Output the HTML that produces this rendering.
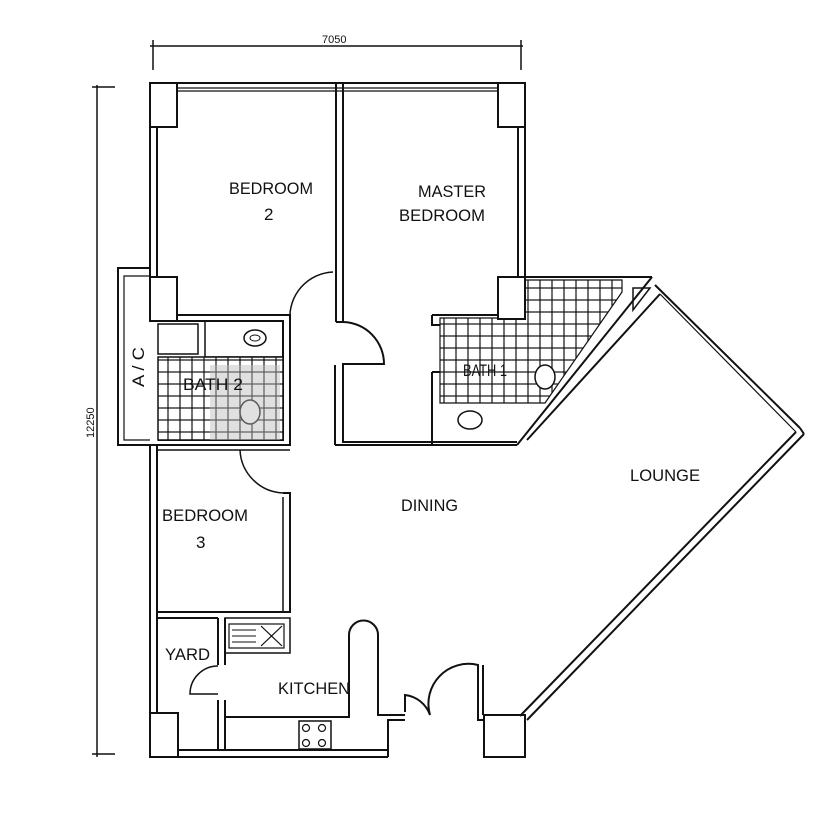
<!DOCTYPE html>
<html><head><style>
html,body{margin:0;padding:0;background:#fff;}
svg{display:block}
text{font-family:"Liberation Sans",sans-serif;fill:#111;}
</style></head><body>
<svg width="839" height="813" viewBox="0 0 839 813" xmlns="http://www.w3.org/2000/svg">
<defs>
<pattern id="tile" width="12" height="12" patternUnits="userSpaceOnUse">
<rect width="12" height="12" fill="#fff" stroke="#111" stroke-width="1.2"/>
</pattern>
<clipPath id="mb"><polygon points="440,318 498,318 498,280 622,280 622,292 545,403 440,403"/></clipPath>
</defs>
<g fill="none" stroke="#111" stroke-width="2">
<line x1="150" y1="46" x2="523" y2="46" stroke-width="1.5"/>
<line x1="153" y1="40" x2="153" y2="70" stroke-width="1.5"/>
<line x1="521" y1="40" x2="521" y2="70" stroke-width="1.5"/>
<line x1="97" y1="85" x2="97" y2="757" stroke-width="1.5"/>
<line x1="92" y1="87" x2="115" y2="87" stroke-width="1.5"/>
<line x1="92" y1="754" x2="115" y2="754" stroke-width="1.5"/>

<line x1="150" y1="83" x2="525" y2="83"/>
<line x1="177" y1="88" x2="498" y2="88" stroke-width="1.2"/>
<line x1="177" y1="91" x2="498" y2="91" stroke-width="1.2"/>
<rect x="150" y="83" width="27" height="44" fill="#fff"/>
<rect x="498" y="83" width="27" height="44" fill="#fff"/>
<rect x="150" y="277" width="27" height="44" fill="#fff"/>
<rect x="150" y="713" width="28" height="44" fill="#fff"/>
<rect x="484" y="715" width="41" height="42" fill="#fff"/>
<line x1="150" y1="127" x2="150" y2="277"/>
<line x1="157" y1="127" x2="157" y2="277"/>
<line x1="518" y1="127" x2="518" y2="277"/>
<line x1="525" y1="127" x2="525" y2="277"/>
<line x1="336" y1="83" x2="336" y2="322"/>
<line x1="343" y1="83" x2="343" y2="322"/>
<line x1="336" y1="322" x2="343" y2="322"/>
<path d="M150 268 H118 V445 H150"/>
<path d="M150 276 H124 V440 H150" stroke-width="1.2"/>
<path d="M177 315 H290 V445 H150"/>
<path d="M177 321 H283 V440 H158"/>
<rect x="158" y="324" width="40" height="30" stroke-width="1.5"/>
<rect x="205" y="321" width="78" height="36" stroke-width="1.5"/>
<ellipse cx="255" cy="338" rx="11" ry="8" stroke-width="1.5"/>
<ellipse cx="255" cy="338" rx="5" ry="3" stroke-width="1"/>
<rect x="158" y="357" width="125" height="83" fill="url(#tile)" stroke-width="1.5"/>
<ellipse cx="250" cy="412" rx="10" ry="12" fill="#fff" stroke-width="1.5"/>
<rect x="210" y="365" width="70" height="75" fill="#bbb" fill-opacity="0.45" stroke="none"/>
<path d="M290 320 A45 45 0 0 1 333 272" stroke-width="1.5"/>
<path d="M343 322 A42 42 0 0 1 384 364 H343 V442 H517" stroke-width="2"/>
<line x1="335" y1="365" x2="335" y2="445"/>
<line x1="335" y1="445" x2="517" y2="445"/>
<!-- master bath -->
<path d="M432 315 H498"/>
<path d="M432 315 V325 H440"/>
<g clip-path="url(#mb)">
<rect x="430" y="270" width="200" height="140" fill="url(#tile)" stroke="none"/>
<rect x="440" y="403" width="100" height="40" fill="#fff" stroke="none"/>
</g>
<polygon points="440,318 498,318 498,280 622,280 622,292 545,403 440,403" stroke-width="1.2"/>
<rect x="498" y="277" width="27" height="42" fill="#fff"/>
<ellipse cx="470" cy="420" rx="12" ry="9" stroke-width="1.5"/>
<ellipse cx="545" cy="377" rx="10" ry="12" fill="#fff" stroke-width="1.5"/>
<path d="M432 372 H440"/>
<line x1="432" y1="372" x2="432" y2="445"/>
<line x1="652" y1="277" x2="517" y2="445"/>
<line x1="660" y1="294" x2="527" y2="440"/>
<line x1="525" y1="277" x2="652" y2="277"/>
<polygon points="633,288 650,288 633,310" stroke-width="1.5"/>
<line x1="655" y1="285" x2="800" y2="428"/>
<line x1="660" y1="294" x2="796" y2="432" stroke-width="1.2"/>
<line x1="800" y1="428" x2="804" y2="434"/>
<line x1="804" y1="434" x2="527" y2="720"/>
<line x1="796" y1="432" x2="520" y2="716"/>
<line x1="150" y1="445" x2="150" y2="713"/>
<line x1="157" y1="445" x2="157" y2="713"/>
<path d="M158 450 H290" stroke-width="1.5"/>
<path d="M240 450 A45 45 0 0 0 283 493" stroke-width="1.5"/>
<path d="M283 493 H290 V612 H158"/>
<line x1="283" y1="497" x2="283" y2="612" stroke-width="1.5"/>
<line x1="158" y1="618" x2="218" y2="618"/>
<line x1="218" y1="618" x2="218" y2="665"/>
<line x1="225" y1="618" x2="225" y2="665"/>
<path d="M218 666 A28 28 0 0 0 190 694 H218" stroke-width="1.5"/>
<line x1="218" y1="700" x2="218" y2="750"/>
<line x1="225" y1="700" x2="225" y2="750"/>
<rect x="225" y="618" width="65" height="35" stroke-width="1.5"/>
<rect x="229" y="624" width="55" height="24" stroke-width="1.2"/>
<line x1="261" y1="626" x2="282" y2="646" stroke-width="1.2"/>
<line x1="282" y1="626" x2="261" y2="646" stroke-width="1.2"/>
<line x1="232" y1="630" x2="256" y2="630" stroke-width="1"/>
<line x1="232" y1="636" x2="256" y2="636" stroke-width="1"/>
<line x1="232" y1="642" x2="256" y2="642" stroke-width="1"/>
<path d="M225 717 H349 V635 A14 14 0 0 1 378 635 V715 H405"/>
<rect x="299" y="721" width="32" height="28" stroke-width="1.5"/>
<circle cx="306" cy="728" r="3.5" stroke-width="1.2"/>
<circle cx="322" cy="728" r="3.5" stroke-width="1.2"/>
<circle cx="306" cy="743" r="3.5" stroke-width="1.2"/>
<circle cx="322" cy="743" r="3.5" stroke-width="1.2"/>
<line x1="150" y1="757" x2="388" y2="757"/>
<line x1="178" y1="750" x2="388" y2="750"/>
<path d="M388 757 V720 H405"/>
<path d="M405 712 V695 A30 30 0 0 1 430 715 A40 40 0 0 1 478 665 V720 H484"/>
<line x1="483" y1="665" x2="483" y2="715"/>
</g>
<g font-size="17">
<text x="229" y="194" textLength="84" lengthAdjust="spacingAndGlyphs">BEDROOM</text>
<text x="264" y="220">2</text>
<text x="418" y="197" textLength="68" lengthAdjust="spacingAndGlyphs">MASTER</text>
<text x="399" y="221" textLength="86" lengthAdjust="spacingAndGlyphs">BEDROOM</text>
<text x="463" y="376" textLength="44" lengthAdjust="spacingAndGlyphs">BATH 1</text>
<text x="183" y="390" textLength="60" lengthAdjust="spacingAndGlyphs" fill="#555">BATH 2</text>
<text x="162" y="521" textLength="86" lengthAdjust="spacingAndGlyphs">BEDROOM</text>
<text x="196" y="548">3</text>
<text x="401" y="511" textLength="57" lengthAdjust="spacingAndGlyphs">DINING</text>
<text x="630" y="481" textLength="70" lengthAdjust="spacingAndGlyphs">LOUNGE</text>
<text x="165" y="660" textLength="45" lengthAdjust="spacingAndGlyphs">YARD</text>
<text x="278" y="694" textLength="72" lengthAdjust="spacingAndGlyphs">KITCHEN</text>
<text transform="translate(144,387) rotate(-90)" textLength="40" lengthAdjust="spacingAndGlyphs">A / C</text>
</g>
<text x="322" y="43" font-size="11">7050</text>
<text transform="translate(94,438) rotate(-90)" font-size="11">12250</text>
</svg>
</body></html>
